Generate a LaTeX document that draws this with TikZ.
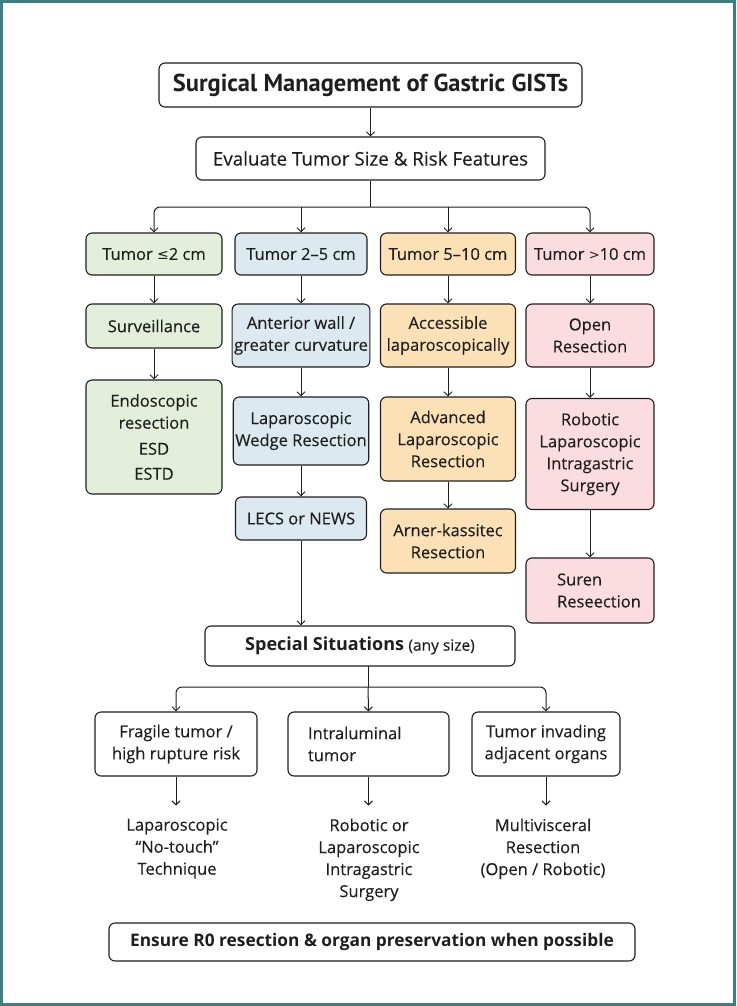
\documentclass[tikz,border=0pt]{standalone}
\usepackage{fontspec}
\setmainfont{Open Sans}[UprightFeatures={FakeBold=0.25}]
\newfontfamily\ptsans{PT Sans}
\newfontfamily\symf{DejaVu Sans}
\usetikzlibrary{arrows.meta}
\definecolor{frame}{HTML}{3E7E7E}
\definecolor{gfill}{HTML}{E4EFDB}
\definecolor{bfill}{HTML}{DDE9F0}
\definecolor{ofill}{HTML}{FCE1B6}
\definecolor{pfill}{HTML}{FBDDE1}
\definecolor{ink}{HTML}{1E1E1E}
\tikzset{
  box/.style={draw=ink, line width=1.1pt, rounded corners=6pt, align=center, inner sep=2pt,
    font=\fontsize{16.5}{22}\selectfont, text=ink},
  plain/.style={align=center, font=\fontsize{16.5}{22}\selectfont, text=ink},
  arr/.style={draw=ink, line width=1pt, -{Straight Barb[length=4pt,width=8pt]}},
  ln/.style={draw=ink, line width=1pt},
}
\begin{document}
\begin{tikzpicture}[x=1pt,y=-1pt]
\fill[white] (0,0) rectangle (736,1006);
\useasboundingbox (0,0) rectangle (736,1006);
\draw[frame, line width=3pt] (1.5,1.5) rectangle (734.5,1004.5);

% title and evaluate
\node[box, minimum width=423, minimum height=44, font=\ptsans\fontsize{24.5}{28}\selectfont\bfseries] (title) at (370.5,85) {Surgical Management of Gastric GISTs};
\node[box, minimum width=349, minimum height=43, font=\fontsize{18.8}{21}\selectfont] (eval) at (370.5,158.5) {Evaluate Tumor Size \& Risk Features};
\draw[arr] (title.south) -- (eval.north);

% size row
\node[box, fill=gfill, minimum width=136, minimum height=42] (t1) at (154,254) {Tumor {\symf\fontsize{14}{16}\selectfont ≤}2 cm};
\node[box, fill=bfill, minimum width=132, minimum height=42] (t2) at (301,254) {Tumor 2–5 cm};
\node[box, fill=ofill, minimum width=135, minimum height=42] (t3) at (448,254) {Tumor 5–10 cm};
\node[box, fill=pfill, minimum width=128, minimum height=42] (t4) at (590,254) {Tumor {\symf\fontsize{13}{16}\selectfont >}10 cm};

\coordinate (bj) at (370.5,207);
\draw[ln] (eval.south) -- (bj);
\draw[arr, rounded corners=6pt] (bj) -| (t1.north);
\draw[arr, rounded corners=6pt] (bj) -| (t4.north);
\draw[arr] (t2.north |- bj) -- (t2.north);
\draw[arr] (t3.north |- bj) -- (t3.north);

% column 1
\node[box, fill=gfill, minimum width=136, minimum height=44] (surv) at (154,326) {Surveillance};
\node[box, fill=gfill, minimum width=136, minimum height=114] (endo) at (154,437) {Endoscopic\\resection\\[4pt]ESD\\[3pt]ESTD};
\draw[arr] (t1.south) -- (surv.north);
\draw[arr] (surv.south) -- (endo.north);

% column 2
\node[box, fill=bfill, minimum width=132, minimum height=63] (ant) at (301,335.5) {Anterior wall /\\greater curvature};
\node[box, fill=bfill, minimum width=132, minimum height=68] (wedge) at (301,431) {Laparoscopic\\Wedge Resection};
\node[box, fill=bfill, minimum width=131, minimum height=43] (lecs) at (301,518.5) {LECS or NEWS};
\draw[arr] (t2.south) -- (ant.north);
\draw[arr] (ant.south) -- (wedge.north);
\draw[arr] (wedge.south) -- (lecs.north);

% column 3
\node[box, fill=ofill, minimum width=135, minimum height=63] (acc) at (448,335.5) {Accessible\\laparoscopically};
\node[box, fill=ofill, minimum width=135, minimum height=84] (adv) at (448,439) {Advanced\\Laparoscopic\\Resection};
\node[box, fill=ofill, minimum width=135, minimum height=64] (arner) at (448,541) {Arner-kassitec\\Resection};
\draw[arr] (t3.south) -- (acc.north);
\draw[arr] (acc.south) -- (adv.north);
\draw[arr] (adv.south) -- (arner.north);

% column 4
\node[box, fill=pfill, minimum width=128, minimum height=63] (open) at (590,335.5) {Open\\Resection};
\node[box, fill=pfill, minimum width=128, minimum height=111] (rob) at (590,454) {Robotic\\Laparoscopic\\Intragastric\\Surgery};
\node[box, fill=pfill, minimum width=128, minimum height=65, align=left] (suren) at (590,590.5) {\hspace*{18pt}Suren\\\hspace*{18pt}Reseection};
\draw[arr] (t4.south) -- (open.north);
\draw[arr] (open.south) -- (rob.north);
\draw[arr] (rob.south) -- (suren.north);

% special situations
\node[box, minimum width=310, minimum height=40] (spec) at (360,646) {{\fontsize{18}{21}\selectfont\bfseries Special Situations} {\fontsize{15.5}{18}\selectfont (any size)}};
\draw[arr] (lecs.south) -- (lecs.south |- spec.north);

\node[box, minimum width=162, minimum height=64] (frag) at (176,744) {Fragile tumor /\\high rupture risk};
\node[box, minimum width=161, minimum height=64, align=left, text width=121pt] (intra) at (368.5,744) {Intraluminal\\tumor};
\node[box, minimum width=148, minimum height=64] (inv) at (546,744) {Tumor invading\\adjacent organs};

\coordinate (sj) at (368,687);
\draw[ln] (368,666) -- (sj);
\draw[arr, rounded corners=6pt] (sj) -| (frag.north);
\draw[arr, rounded corners=6pt] (sj) -| (inv.north);
\draw[arr] (sj) -- (intra.north);

\node[plain, anchor=north] (o1) at (177,815) {Laparoscopic\\“No-touch”\\Technique};
\node[plain, anchor=north] (o2) at (369,815) {Robotic or\\Laparoscopic\\Intragastric\\Surgery};
\node[plain, anchor=north] (o3) at (543,815) {Multivisceral\\Resection\\(Open / Robotic)};
\draw[arr] (frag.south) -- ++(0,29);
\draw[arr] (intra.south) -- ++(0,29);
\draw[arr] (inv.south) -- ++(0,29);

% bottom
\node[box, minimum width=526, minimum height=38, font=\fontsize{17.3}{21}\selectfont\bfseries] (ens) at (372,942) {Ensure R0 resection \& organ preservation when possible};
\end{tikzpicture}
\end{document}
